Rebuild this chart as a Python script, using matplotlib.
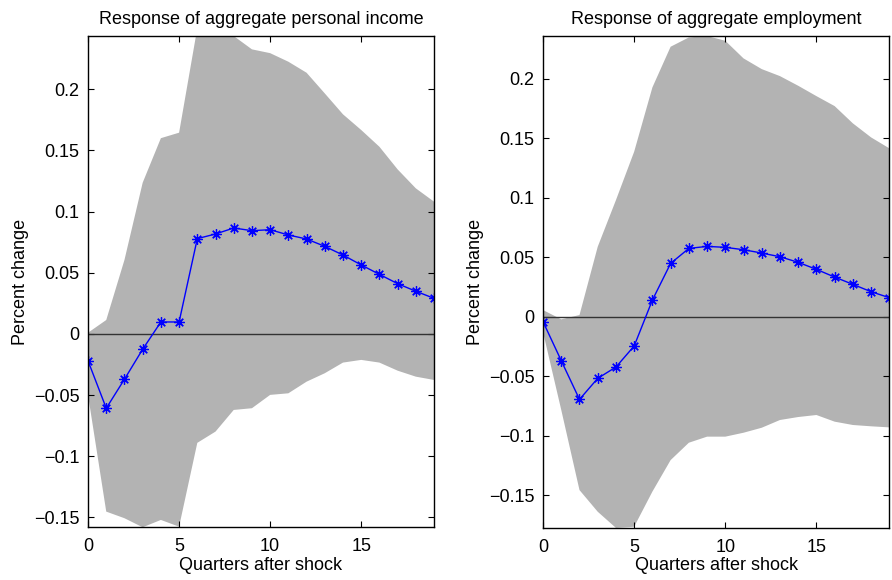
import numpy as np
import matplotlib
matplotlib.use("Agg")
import matplotlib.pyplot as plt

plt.rcParams['font.family'] = ['Liberation Sans', 'DejaVu Sans']
plt.rcParams['font.size'] = 13

quarters = list(range(20))

income_irf = [-0.0220, -0.0607, -0.0370, -0.0125, 0.0098, 0.0098, 0.0779, 0.0817,
              0.0866, 0.0844, 0.0852, 0.0809, 0.0776, 0.0716, 0.0645, 0.0564,
              0.0487, 0.0411, 0.0349, 0.0291]
income_upper = [0.001, 0.0114, 0.0605, 0.1236, 0.1600, 0.1645, 0.2500, 0.2520,
                0.2435, 0.2326, 0.2295, 0.2225, 0.2135, 0.1966, 0.1795, 0.1667,
                0.1530, 0.1345, 0.1190, 0.1081]
income_lower = [-0.0500, -0.1452, -0.1506, -0.1580, -0.1520, -0.1575, -0.0890, -0.0798,
                -0.0621, -0.0607, -0.0498, -0.0485, -0.0390, -0.0321, -0.0234, -0.0212,
                -0.0234, -0.0300, -0.0349, -0.0376]

emp_irf = [-0.0042, -0.0370, -0.0695, -0.0518, -0.0423, -0.0246, 0.0140, 0.0448,
           0.0574, 0.0591, 0.0583, 0.0563, 0.0535, 0.0504, 0.0457, 0.0398,
           0.0333, 0.0272, 0.0210, 0.0160]
emp_upper = [0.0056, -0.0022, 0.0014, 0.0588, 0.0980, 0.1387, 0.1927, 0.2269,
             0.2347, 0.2359, 0.2319, 0.2171, 0.2081, 0.2022, 0.1941, 0.1854,
             0.1770, 0.1625, 0.1507, 0.1415]
emp_lower = [-0.0130, -0.0784, -0.1457, -0.1639, -0.1775, -0.1765, -0.1470, -0.1205,
             -0.1059, -0.1008, -0.1008, -0.0975, -0.0933, -0.0868, -0.0843, -0.0826,
             -0.0882, -0.0910, -0.0921, -0.0930]

titles = ["Response of aggregate personal income", "Response of aggregate employment"]
ylims = [(-0.158, 0.2435), (-0.1773, 0.2359)]
yticks = [[-0.15, -0.1, -0.05, 0, 0.05, 0.1, 0.15, 0.2],
          [-0.15, -0.1, -0.05, 0, 0.05, 0.1, 0.15, 0.2]]
ytick_labels = ["\u22120.15", "\u22120.1", "\u22120.05", "0", "0.05", "0.1", "0.15", "0.2"]
xticks = [0, 5, 10, 15]

fig = plt.figure(figsize=(8.92, 5.80), dpi=100)
rects = [[0.0987, 0.0909, 0.3879, 0.8470], [0.6088, 0.0902, 0.3882, 0.8477]]
data = [(income_irf, income_upper, income_lower), (emp_irf, emp_upper, emp_lower)]

for i in range(2):
    ax = fig.add_axes(rects[i])
    irf, up, lo = data[i]
    ax.fill_between(quarters, lo, up, facecolor='#b3b3b3', edgecolor='none', zorder=1)
    ax.axhline(0, color='#333333', linewidth=1.0, zorder=2)
    ax.plot(quarters, irf, color='#0000ff', linewidth=1.0, marker=(8, 2, 0),
            markersize=7.5, markeredgewidth=0.9, zorder=3)
    ax.set_xlim(0, 19)
    ax.set_ylim(*ylims[i])
    ax.set_xticks(xticks)
    ax.set_yticks(yticks[i])
    ax.set_yticklabels(ytick_labels)
    ax.tick_params(direction='in', top=True, right=True, length=4.5, width=0.8,
                   labelsize=13, pad=6)
    ax.tick_params(axis='x', pad=8)
    for s in ax.spines.values():
        s.set_linewidth(1.0)
        s.set_zorder(5)
    ax.set_title(titles[i], fontsize=13, pad=9)
    ax.set_xlabel("Quarters after shock", fontsize=13, labelpad=1)
    ax.set_ylabel("Percent change", fontsize=13, labelpad=4)

fig.savefig("out.png", dpi=100)
